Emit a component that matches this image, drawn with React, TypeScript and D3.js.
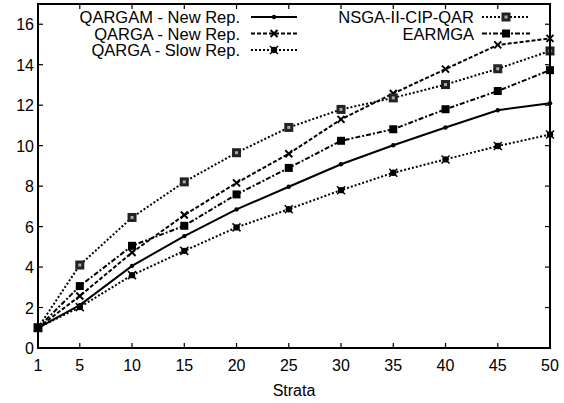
import React from "react";
import * as d3 from "d3";

// Data
const strata = [1, 5, 10, 15, 20, 25, 30, 35, 40, 45, 50];
const qargamNew = [1, 2.12, 4.06, 5.53, 6.85, 7.97, 9.08, 10.02, 10.9, 11.75, 12.1];
const qargaNew = [1, 2.57, 4.72, 6.57, 8.16, 9.6, 11.3, 12.58, 13.78, 14.98, 15.3];
const qargaSlow = [1, 2.02, 3.6, 4.8, 5.96, 6.86, 7.8, 8.66, 9.32, 9.98, 10.55];
const nsgaCip = [1, 4.1, 6.45, 8.21, 9.65, 10.9, 11.79, 12.36, 13.02, 13.8, 14.68];
const earmga = [1, 3.06, 5.05, 6.04, 7.59, 8.9, 10.24, 10.81, 11.8, 12.7, 13.73];
const xTicks = [1, 5, 10, 15, 20, 25, 30, 35, 40, 45, 50];
const yTicks = [0, 2, 4, 6, 8, 10, 12, 14, 16];

const series = [
  { name: "QARGAM - New Rep.", values: qargamNew, dash: "none", marker: "dot" },
  { name: "QARGA - New Rep.", values: qargaNew, dash: "4,2", marker: "cross" },
  { name: "QARGA - Slow Rep.", values: qargaSlow, dash: "2,2", marker: "star" },
  { name: "NSGA-II-CIP-QAR", values: nsgaCip, dash: "2,2", marker: "openSquare" },
  { name: "EARMGA", values: earmga, dash: "5,2,2,2", marker: "square" },
];

const width = 564;
const height = 403;
const margin = { top: 4, right: 14, bottom: 55, left: 38 };
const font = "'Liberation Sans', Arial, Helvetica, sans-serif";

const x = d3.scaleLinear().domain([1, 50]).range([margin.left, width - margin.right]);
const y = d3.scaleLinear().domain([0, 17]).range([height - margin.bottom, margin.top]);

const Marker = ({ type, cx, cy }: { type: string; cx: number; cy: number }) => {
  if (type === "dot") return <circle cx={cx} cy={cy} r={2.2} fill="#000" />;
  if (type === "cross")
    return (
      <g stroke="#000" strokeWidth={2}>
        <line x1={cx - 3.5} y1={cy - 3.5} x2={cx + 3.5} y2={cy + 3.5} />
        <line x1={cx - 3.5} y1={cy + 3.5} x2={cx + 3.5} y2={cy - 3.5} />
      </g>
    );
  if (type === "star")
    return (
      <g>
        <circle cx={cx} cy={cy} r={3.2} fill="#000" />
        <g stroke="#000" strokeWidth={1.5}>
          <line x1={cx - 4} y1={cy - 4} x2={cx + 4} y2={cy + 4} />
          <line x1={cx - 4} y1={cy + 4} x2={cx + 4} y2={cy - 4} />
        </g>
      </g>
    );
  if (type === "openSquare")
    return (
      <g>
        <rect x={cx - 4.5} y={cy - 4.5} width={9} height={9} fill="#222" />
        <rect x={cx - 1.5} y={cy - 1.5} width={3} height={3} fill="#aaa" />
      </g>
    );
  return <rect x={cx - 4} y={cy - 4} width={8} height={8} fill="#000" />;
};

const App = () => {
  const line = d3
    .line<number>()
    .x((_, i) => x(strata[i]))
    .y((d) => y(d));

  const x0 = margin.left;
  const x1 = width - margin.right;
  const y0 = height - margin.bottom;
  const y1 = margin.top;
  const tick = 5;

  // legend layout
  const legendRows = [17, 33.5, 50];
  const legend = [
    { s: series[0], tx: 240, lx1: 251, lx2: 297, row: 0 },
    { s: series[1], tx: 240, lx1: 251, lx2: 297, row: 1 },
    { s: series[2], tx: 240, lx1: 251, lx2: 297, row: 2 },
    { s: series[3], tx: 474, lx1: 482, lx2: 530, row: 0 },
    { s: series[4], tx: 474, lx1: 482, lx2: 530, row: 1 },
  ];

  return (
    <svg width={width} height={height} style={{ position: "absolute", left: 0, top: 0, background: "#fff" }}>
      {/* ticks */}
      <g stroke="#000" strokeWidth={1.2}>
        {xTicks.map((t) => (
          <g key={"x" + t}>
            <line x1={x(t)} x2={x(t)} y1={y0} y2={y0 - tick} />
            <line x1={x(t)} x2={x(t)} y1={y1} y2={y1 + tick} />
          </g>
        ))}
        {yTicks.map((t) => (
          <g key={"y" + t}>
            <line x1={x0} x2={x0 + tick} y1={y(t)} y2={y(t)} />
            <line x1={x1} x2={x1 - tick} y1={y(t)} y2={y(t)} />
          </g>
        ))}
      </g>

      {/* series */}
      {series.map((s) => (
        <g key={s.name}>
          <path
            d={line(s.values) || ""}
            fill="none"
            stroke="#000"
            strokeWidth={2}
            strokeDasharray={s.dash === "none" ? undefined : s.dash}
          />
          {s.values.map((v, i) => (
            <Marker key={i} type={s.marker} cx={x(strata[i])} cy={y(v)} />
          ))}
        </g>
      ))}

      {/* frame */}
      <rect x={x0} y={y1} width={x1 - x0} height={y0 - y1} fill="none" stroke="#000" strokeWidth={2} />

      {/* tick labels */}
      <g fontFamily={font} fontSize={16} fill="#000">
        {xTicks.map((t) => (
          <text key={"xl" + t} x={x(t)} y={y0 + 23} textAnchor="middle">
            {t}
          </text>
        ))}
        {yTicks.map((t) => (
          <text key={"yl" + t} x={x0 - 4} y={y(t) + 6} textAnchor="end">
            {t}
          </text>
        ))}
        <text x={(x0 + x1) / 2} y={y0 + 48} textAnchor="middle">
          Strata
        </text>
      </g>

      {/* legend */}
      <g fontFamily={font} fontSize={16.5} fill="#000">
        {legend.map((l) => (
          <g key={l.s.name}>
            <text x={l.tx} y={legendRows[l.row] + 6} textAnchor="end">
              {l.s.name}
            </text>
            <line
              x1={l.lx1}
              x2={l.lx2}
              y1={legendRows[l.row]}
              y2={legendRows[l.row]}
              stroke="#000"
              strokeWidth={2}
              strokeDasharray={l.s.dash === "none" ? undefined : l.s.dash}
            />
            <Marker type={l.s.marker} cx={(l.lx1 + l.lx2) / 2} cy={legendRows[l.row]} />
          </g>
        ))}
      </g>
    </svg>
  );
};

export default App;
